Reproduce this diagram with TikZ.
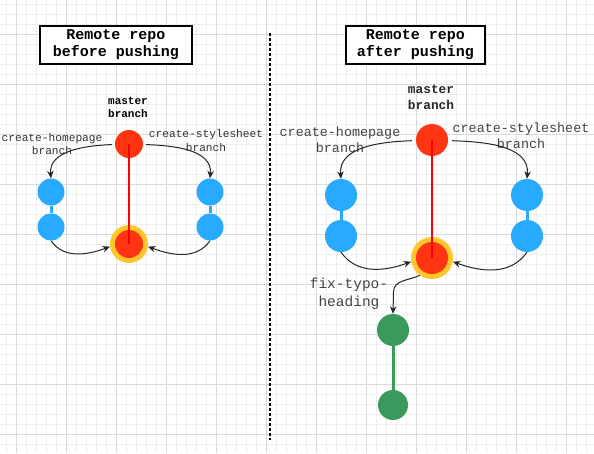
\documentclass[tikz,border=0pt]{standalone}
\usepackage{fontspec}
\setmonofont{Liberation Mono}
\usetikzlibrary{arrows.meta}
\definecolor{cred}{HTML}{FF3413}
\definecolor{cblue}{HTML}{27AAFF}
\definecolor{cgreen}{HTML}{3A9A5C}
\definecolor{cyellow}{HTML}{FFC72C}
\definecolor{gminor}{HTML}{EEEEEE}
\definecolor{gmajor}{HTML}{DADADA}
\definecolor{lblgray}{HTML}{444444}
\begin{document}
\begin{tikzpicture}[x=1pt,y=-1pt,
  commit/.style={circle,inner sep=0pt,minimum size=#1},
  redc/.style={commit=#1,fill=cred},
  bluec/.style={commit=#1,fill=cblue},
  greenc/.style={commit=#1,fill=cgreen},
  ring/.style={commit=#1,fill=cyellow},
  titlebox/.style={draw=black,line width=1.6pt,inner sep=0pt,align=center,
    font=\ttfamily\bfseries\fontsize{15}{17}\selectfont},
  lblS/.style={align=center,text=black!80,inner sep=0pt,font=\ttfamily\fontsize{11.2}{13.5}\selectfont},
  lblL/.style={align=center,text=lblgray,inner sep=0pt,font=\ttfamily\fontsize{13.4}{15.5}\selectfont},
  mlblS/.style={align=center,inner sep=0pt,font=\ttfamily\bfseries\fontsize{11}{13}\selectfont},
  mlblL/.style={align=center,inner sep=0pt,text=black!85,font=\ttfamily\bfseries\fontsize{12.8}{15.5}\selectfont},
  arr/.style={draw=black!85,line width=1pt,-{Stealth[length=7.5pt,width=6.5pt]}},
  redline/.style={draw=red,line width=2.5pt},
  blueline/.style={draw=cblue,line width=3pt},
  greenline/.style={draw=cgreen,line width=3pt}]
\useasboundingbox (0,0) rectangle (594,453);
\fill[white] (0,0) rectangle (594,453);
% grid
\foreach \x in {6,16,...,594} \draw[gminor,line width=0.6pt] (\x,0) -- (\x,453);
\foreach \y in {4,14,...,453} \draw[gminor,line width=0.6pt] (0,\y) -- (594,\y);
\foreach \x in {16,66,...,594} \draw[gmajor,line width=0.8pt] (\x,0) -- (\x,453);
\foreach \y in {34,84,...,453} \draw[gmajor,line width=0.8pt] (0,\y) -- (594,\y);

% titles
\node[titlebox,minimum width=152pt,minimum height=38pt,fill=white] (t1) at (116,45) {Remote repo\\before pushing};
\node[titlebox,minimum width=139pt,minimum height=38pt,fill=white] (t2) at (415.5,45) {Remote repo\\after pushing};

% divider
\coordinate (dtop) at (270,33);
\coordinate (dbot) at (270,440);
\draw[black,line width=2pt,dash pattern=on 3pt off 2pt] (dtop) -- (dbot);

% ---------- left ----------
\node[mlblS] (lml) at (128,107.5) {master\\branch};
\node[lblS] (lhl) at (52,144) {create-homepage\\branch};
\node[lblS] (lsl) at (206,140.5) {create-stylesheet\\branch};
\node[redc=28pt] (lm1) at (129,144) {};
\node[ring=38pt] (lmy) at (129,244) {};
\node[redc=28pt] (lm2) at (129,244) {};
\node[bluec=27pt] (lb1) at (51,192) {};
\node[bluec=27pt] (lb2) at (51,227) {};
\node[bluec=27pt] (lc1) at (210,192) {};
\node[bluec=27pt] (lc2) at (210,227) {};
\draw[blueline] (lb1) -- (lb2);
\draw[blueline] (lc1) -- (lc2);
\draw[redline] (lm1.center) -- (lm2.center);
\draw[arr,shorten <=3pt] (lm1.182) to[out=182,in=95] (lb1.north);
\draw[arr,shorten <=3pt] (lm1.-2) to[out=-2,in=85] (lc1.north);
\draw[arr] (lb2.south) to[out=-55,in=200] (lmy.188);
\draw[arr] (lc2.south) to[out=-125,in=-20] (lmy.-8);

% ---------- right ----------
\node[mlblL] (rml) at (431,97.5) {master\\branch};
\node[lblL] (rhl) at (340,139.5) {create-homepage\\branch};
\node[lblL] (rsl) at (521,135.5) {create-stylesheet\\branch};
\node[redc=32pt] (rm1) at (432,140) {};
\node[ring=42pt] (rmy) at (432,258) {};
\node[redc=32pt] (rm2) at (432,258) {};
\node[bluec=32pt] (rb1) at (341,195) {};
\node[bluec=32pt] (rb2) at (341,236) {};
\node[bluec=32pt] (rc1) at (527,195) {};
\node[bluec=32pt] (rc2) at (527,236) {};
\draw[blueline] (rb1) -- (rb2);
\draw[blueline] (rc1) -- (rc2);
\draw[redline] (rm1.center) -- (rm2.center);
\draw[arr,shorten <=4pt] (rm1.182) to[out=182,in=95] (rb1.north);
\draw[arr,shorten <=4pt] (rm1.-2) to[out=-2,in=85] (rc1.north);
\draw[arr] (rb2.south) to[out=-55,in=200] (rmy.190);
\draw[arr] (rc2.south) to[out=-125,in=-20] (rmy.-10);

\node[lblL,font=\ttfamily\fontsize{14.5}{18}\selectfont] (fth) at (349,294) {fix-typo-\\heading};
\node[greenc=32pt] (g1) at (393,330) {};
\node[greenc=30pt] (g2) at (393,405) {};
\draw[greenline] (g1) -- (g2);
\coordinate (bend) at (393.5,292);
\draw[arr] (rmy.235) to[out=205,in=90] (bend) -- (g1.north);
\end{tikzpicture}
\end{document}
